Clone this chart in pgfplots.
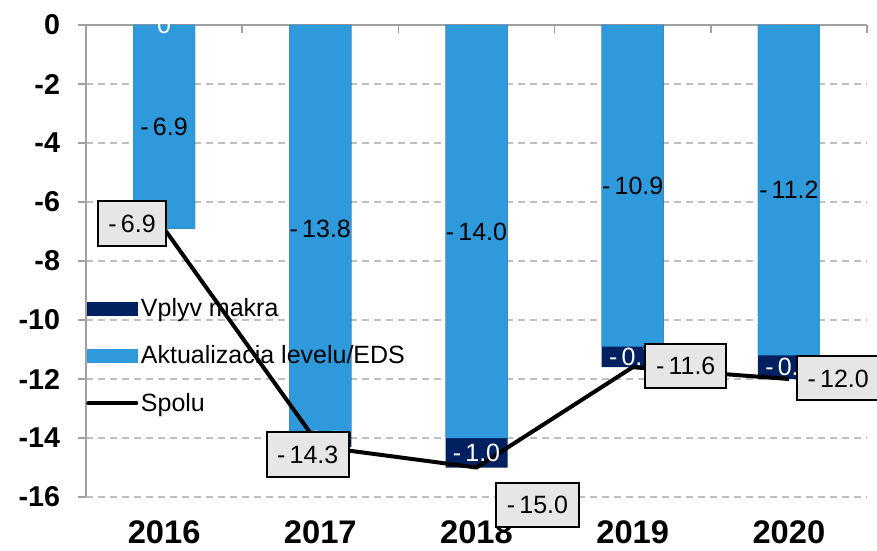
\documentclass[border=0pt]{standalone}
\usepackage{pgfplots}
\pgfplotsset{compat=1.18}
\usepackage{pgfplotstable}
\usepackage{fontspec}
\setmainfont{Liberation Sans}
\definecolor{lblue}{HTML}{2E9ADB}
\definecolor{navy}{HTML}{00205F}
\definecolor{boxgray}{HTML}{E6E6E6}
\definecolor{gridgray}{HTML}{BFBFBF}
\definecolor{axgray}{HTML}{A0A0A0}
\newcommand\lbfont{\fontsize{18.75}{22}\selectfont}
\newcommand\lab[1]{-\,\pgfmathprintnumber[fixed,fixed zerofill,precision=1,assume math mode=true]{#1}}

\pgfplotstableread{
x eds total
0 -6.9 -6.9
1 -13.8 -14.3
2 -14.0 -15.0
3 -10.9 -11.6
4 -11.2 -12.0
}\data

\pgfplotstableread{
x y val
1 -14.05 0.5
2 -14.5 1.0
3 -11.25 0.7
4 -11.6 0.8
}\makralab

\pgfplotstableread{
x total dx dy
0 -6.9 -24 4
1 -14.3 -9.4 -5.6
2 -15.0 45.75 -28
3 -11.6 39.75 1
4 -12.0 37 0.75
}\boxes

\begin{document}
\begin{tikzpicture}
\begin{axis}[name=ax,
  scale only axis, width=585.75pt, height=354pt,
  xmin=-0.5, xmax=4.5, ymin=-16, ymax=0,
  axis x line*=top, axis y line*=left,
  xtick={0,1,2,3,4}, xticklabels={2016,2017,2018,2019,2020},
  minor xtick={-0.5,0.5,1.5,2.5,3.5,4.5},
  major x tick style={draw=none},
  ytick={-16,-14,...,0},
  tick align=inside,
  major tick length=6pt, minor tick length=6pt,
  tick style={axgray, line width=1.1pt},
  y tick style={xshift=-6pt},
  axis line style={axgray, line width=1.1pt},
  ymajorgrids,
  major grid style={gridgray, line width=1.1pt, dash pattern=on 5pt off 4pt},
  /pgf/number format/assume math mode=true,
  yticklabel style={font=\bfseries\fontsize{21.5}{22}\selectfont, xshift=-16pt},
  xticklabel style={font=\bfseries\fontsize{24.5}{25}\selectfont, anchor=north, yshift=-368pt},
  legend style={at={(axis description cs:0.0,0.427)}, anchor=north west, draw=none, fill=none,
    font=\lbfont, row sep=16.5pt, inner sep=0pt},
  legend cell align=left,
]
\addlegendimage{legend image code/.code={\fill[navy] (3pt,-5pt) rectangle (41pt,5pt);}}
\addlegendentry{Vplyv makra}
\addlegendimage{legend image code/.code={\fill[lblue] (3pt,-5pt) rectangle (41pt,5pt);}}
\addlegendentry{Aktualizacia levelu/EDS}
\addlegendimage{legend image code/.code={\draw[black, line width=3pt, line cap=round] (4pt,0pt) -- (40pt,0pt);}}
\addlegendentry{Spolu}

\addplot[ybar, bar width=46.5pt, bar shift=0pt, fill=navy, draw=none, forget plot] table[x=x,y=total]{\data};
\addplot[ybar, bar width=46.5pt, bar shift=0pt, fill=lblue, draw=none, forget plot] table[x=x,y=eds]{\data};

% labels of EDS segments
\addplot[draw=none, mark=none, forget plot, point meta=explicit,
  nodes near coords={\lab{\pgfplotspointmeta}},
  nodes near coords style={anchor=center, font=\lbfont, text=black}]
  table[x=x, y expr=\thisrow{eds}/2, meta expr=-\thisrow{eds}]{\data};
% labels of makro segments
\addplot[draw=none, mark=none, forget plot, point meta=explicit,
  nodes near coords={\lab{\pgfplotspointmeta}},
  nodes near coords style={anchor=center, font=\lbfont, text=white}]
  table[x=x, y=y, meta=val]{\makralab};
\addplot[draw=none, mark=none, forget plot,
  nodes near coords={0},
  nodes near coords style={anchor=center, font=\lbfont, text=white}]
  coordinates {(0,0)};

% total line
\addplot[black, line width=3pt, line join=round, mark=none, forget plot] table[x=x,y=total]{\data};

% total boxes
\addplot[draw=none, mark=none, forget plot, point meta=explicit,
  visualization depends on={\thisrow{dx}\as\dx},
  visualization depends on={\thisrow{dy}\as\dy},
  nodes near coords={\lab{\pgfplotspointmeta}},
  nodes near coords style={anchor=center, xshift=\dx pt, yshift=\dy pt, fill=boxgray, draw=black,
    line width=1.5pt, inner xsep=8pt, inner ysep=10pt, text height=13.5pt, text depth=0pt,
    font=\lbfont, text=black}]
  table[x=x, y=total, meta expr=-\thisrow{total}]{\boxes};
\end{axis}
\pgfresetboundingbox
\path[use as bounding box] ([xshift=-64.5pt,yshift=-39.75pt]ax.south west) rectangle ([xshift=7.5pt,yshift=18.75pt]ax.north east);
\end{tikzpicture}
\end{document}
